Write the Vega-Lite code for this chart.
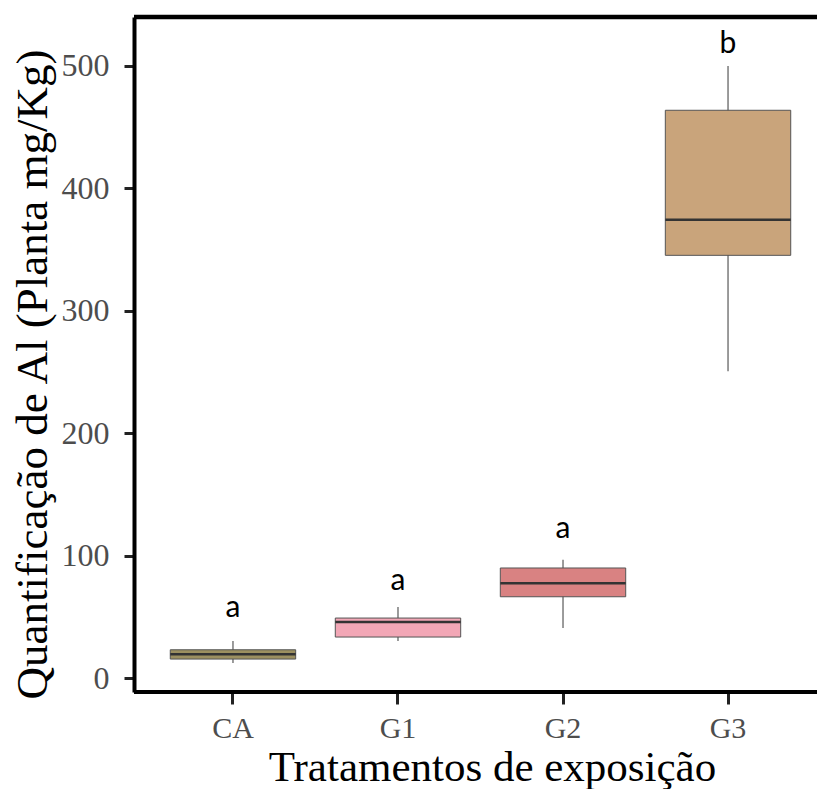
{
  "$schema": "https://vega.github.io/schema/vega-lite/v6.json",
  "width": 683,
  "height": 675,
  "padding": {"left": 10, "top": 14, "right": 0, "bottom": 0},
  "background": "white",
  "config": {"view": {"stroke": null}, "axis": {"grid": false}},
  "data": {
    "values": [
      {"grupo": "CA", "min": 12.3, "q1": 15.5, "median": 19.4, "q3": 23.1, "max": 30.2, "letra": "a", "letra_y": 57},
      {"grupo": "G1", "min": 30.2, "q1": 33.5, "median": 45.8, "q3": 49.0, "max": 58.0, "letra": "a", "letra_y": 79},
      {"grupo": "G2", "min": 40.8, "q1": 66.4, "median": 77.4, "q3": 89.9, "max": 96.7, "letra": "a", "letra_y": 121.7},
      {"grupo": "G3", "min": 250.6, "q1": 345.3, "median": 374.4, "q3": 463.8, "max": 500.0, "letra": "b", "letra_y": 518}
    ]
  },
  "layer": [
    {
      "mark": {"type": "rule", "color": "#666666", "strokeWidth": 1.3},
      "encoding": {
        "x": {
          "field": "grupo", "type": "nominal",
          "scale": {"type": "band", "domain": ["CA", "G1", "G2", "G3"], "paddingInner": 0.24, "paddingOuter": 0.1895, "align": 0.58},
          "axis": {
            "title": "Tratamentos de exposição",
            "titleFont": "Liberation Serif", "titleFontSize": 43, "titleFontWeight": "normal", "titleColor": "black",
            "titlePadding": 3, "titleX": 358,
            "labelFont": "Liberation Serif", "labelFontSize": 30, "labelColor": "#4d4d4d", "labelAngle": 0, "labelPadding": 9,
            "domain": false, "ticks": true, "tickColor": "#222222", "tickWidth": 3, "tickSize": 12
          }
        },
        "y": {
          "field": "min", "type": "quantitative",
          "scale": {"domain": [-11.4, 540.0], "nice": false, "zero": false},
          "axis": {
            "title": "Quantificação de Al (Planta mg/Kg)",
            "titleFont": "Liberation Serif", "titleFontSize": 45, "titleFontWeight": "normal", "titleColor": "black",
            "titlePadding": 6, "titleY": 357,
            "values": [0, 100, 200, 300, 400, 500],
            "labelFont": "Liberation Serif", "labelFontSize": 32, "labelColor": "#4d4d4d", "labelPadding": 15,
            "domain": true, "domainColor": "black", "domainWidth": 4,
            "tickColor": "#222222", "tickWidth": 3, "tickSize": 10
          }
        },
        "y2": {"field": "max"}
      }
    },
    {
      "mark": {"type": "bar", "stroke": "#555555", "strokeWidth": 1},
      "encoding": {
        "x": {"field": "grupo", "type": "nominal"},
        "y": {"field": "q1", "type": "quantitative"},
        "y2": {"field": "q3"},
        "fill": {
          "field": "grupo", "type": "nominal",
          "scale": {"domain": ["CA", "G1", "G2", "G3"], "range": ["#9c9060", "#f2a7b6", "#d98282", "#c9a47b"]},
          "legend": null
        }
      }
    },
    {
      "mark": {"type": "rect", "stroke": "#333333", "strokeWidth": 2.5, "fill": null},
      "encoding": {
        "x": {"field": "grupo", "type": "nominal"},
        "y": {"field": "median", "type": "quantitative"},
        "y2": {"field": "median"}
      }
    },
    {
      "mark": {"type": "text", "font": "Lato", "fontSize": 30, "baseline": "middle", "align": "center", "color": "black"},
      "encoding": {
        "x": {"field": "grupo", "type": "nominal"},
        "y": {"field": "letra_y", "type": "quantitative"},
        "text": {"field": "letra"}
      }
    },
    {
      "data": {"values": [{"borda": 540.0}]},
      "mark": {"type": "rule", "color": "black", "strokeWidth": 4.5},
      "encoding": {"y": {"field": "borda", "type": "quantitative"}}
    },
    {
      "data": {"values": [{"borda": -11.4}]},
      "mark": {"type": "rule", "color": "black", "strokeWidth": 4},
      "encoding": {"y": {"field": "borda", "type": "quantitative"}}
    }
  ]
}
